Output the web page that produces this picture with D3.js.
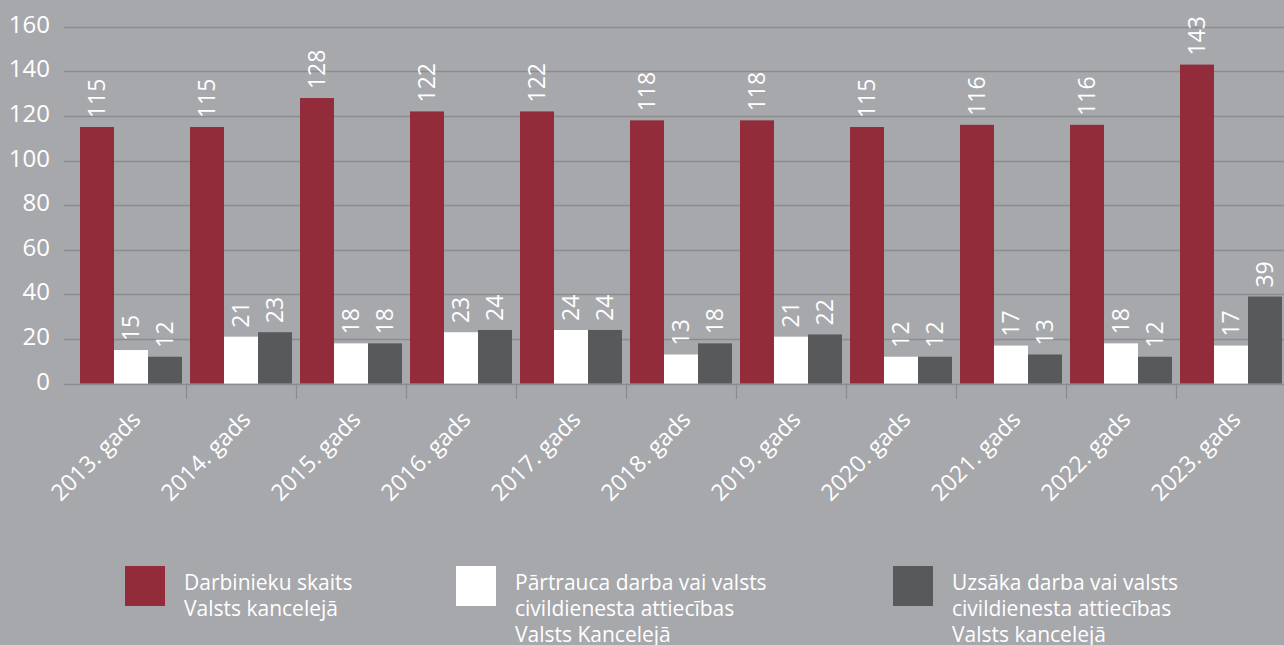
<!DOCTYPE html>
<html>
<head>
<meta charset="utf-8">
<script src="https://cdn.jsdelivr.net/npm/d3@7"></script>
<style>
  body{ margin:0; background-color:#a7a8ac; }
  text{ font-family:"Open Sans", sans-serif; fill:#ffffff; }
</style>
</head>
<body>
<script>
// data
let years = ["2013. gads","2014. gads","2015. gads","2016. gads","2017. gads","2018. gads",
             "2019. gads","2020. gads","2021. gads","2022. gads","2023. gads"];
let employees = [115,115,128,122,122,118,118,115,116,116,143];
let leftJob   = [15,21,18,23,24,13,21,12,17,18,17];
let startedJob = [12,23,18,24,24,18,22,12,13,12,39];
let yTicks = [0,20,40,60,80,100,120,140,160];

let seriesKeys = ["employees","leftJob","startedJob"];
let seriesColors = ["#922b3a","#ffffff","#58595b"];
let legendLabels = [
  ["Darbinieku skaits","Valsts kancelejā"],
  ["Pārtrauca darba vai valsts","civildienesta attiecības","Valsts Kancelejā"],
  ["Uzsāka darba vai valsts","civildienesta attiecības","Valsts kancelejā"]
];

let w = 1284;
let h = 645;

let viz = d3.select("body")
              .append("svg")
                .attr("width",w)
                .attr("height",h)
                .style("background-color","#a7a8ac")
                .style("display","block")
;

// build rows for the grouped bars
let rows = years.map(function(y,i){
  return {year:y, employees:employees[i], leftJob:leftJob[i], startedJob:startedJob[i]};
});

let gridLeft = 64;
let xScale = d3.scaleBand().domain(years).range([76,1286]);
let innerScale = d3.scaleBand().domain(seriesKeys).range([4,xScale.bandwidth()-4]);
let yScale = d3.scaleLinear().domain([0,160]).range([383.5,26.7]);

// gridlines
viz.append("g").attr("class","grid")
  .selectAll("line").data(yTicks).enter()
  .append("line")
    .attr("x1",gridLeft)
    .attr("x2",w)
    .attr("y1",function(d){ return Math.round(yScale(d))+0.5; })
    .attr("y2",function(d){ return Math.round(yScale(d))+0.5; })
    .attr("stroke","#8b8c90")
    .attr("stroke-width",1.3)
;

// y labels
viz.append("g").attr("class","ylabels")
  .selectAll("text").data(yTicks).enter()
  .append("text")
    .attr("x",50)
    .attr("y",function(d){ return yScale(d)+6; })
    .attr("text-anchor","end")
    .style("font-size","24px")
    .text(function(d){ return d; })
;

// ticks between categories
viz.append("g").attr("class","xticks")
  .selectAll("line").data(years.slice(1)).enter()
  .append("line")
    .attr("x1",function(d){ return Math.round(xScale(d))+0.5; })
    .attr("x2",function(d){ return Math.round(xScale(d))+0.5; })
    .attr("y1",yScale(0))
    .attr("y2",399)
    .attr("stroke","#8b8c90")
    .attr("stroke-width",1.3)
;

// bars
let groups = viz.append("g").attr("class","bars")
  .selectAll("g").data(rows).enter()
  .append("g")
    .attr("transform",function(d){ return "translate("+xScale(d.year)+",0)"; })
;

function cells(d){
  return seriesKeys.map(function(k,i){
    return {key:k, value:d[k], color:seriesColors[i]};
  });
}

groups.selectAll("rect").data(cells).enter()
  .append("rect")
    .attr("x",function(d){ return innerScale(d.key); })
    .attr("width",innerScale.bandwidth())
    .attr("y",function(d){ return yScale(d.value); })
    .attr("height",function(d){ return yScale(0)-yScale(d.value); })
    .attr("fill",function(d){ return d.color; })
;

// value labels, turned on their side
groups.selectAll("text").data(cells).enter()
  .append("text")
    .attr("transform",function(d){
      let cx = innerScale(d.key)+innerScale.bandwidth()/2;
      let cy = yScale(d.value)-9;
      return "translate("+cx+","+cy+") rotate(-90)";
    })
    .attr("dy","0.36em")
    .style("font-size","23px")
    .text(function(d){ return d.value; })
;

// category labels
viz.append("g").attr("class","xlabels")
  .selectAll("text").data(years).enter()
  .append("text")
    .attr("transform",function(d){
      let cx = xScale(d)+xScale.bandwidth()/2+11;
      return "translate("+cx+",421) rotate(-45)";
    })
    .attr("text-anchor","end")
    .style("font-size","23px")
    .text(function(d){ return d; })
;

// legend
let legendX = [125,456,893];
let legend = viz.append("g").attr("class","legend")
  .selectAll("g").data(legendLabels).enter()
  .append("g")
    .attr("transform",function(d,i){ return "translate("+legendX[i]+",566)"; })
;
legend.append("rect")
  .attr("width",40)
  .attr("height",40)
  .attr("fill",function(d,i){ return seriesColors[i]; })
;
legend.selectAll("text").data(function(d){ return d; }).enter()
  .append("text")
    .attr("x",59)
    .attr("y",function(d,i){ return 24+i*26; })
    .style("font-size","21px")
    .text(function(d){ return d; })
;
</script>
</body>
</html>
